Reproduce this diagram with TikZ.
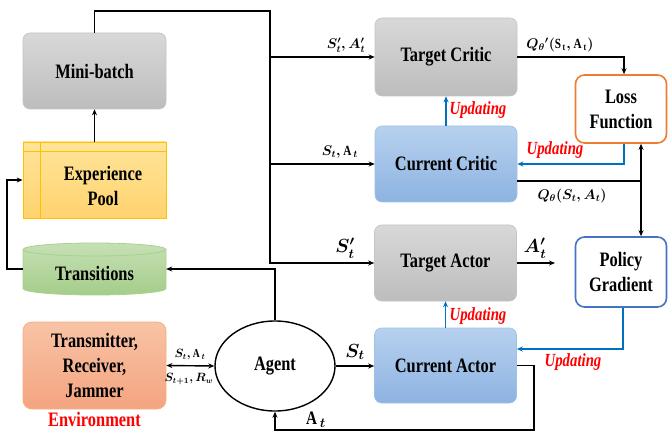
\documentclass[tikz,border=0pt]{standalone}
\usepackage{fix-cm}
\usepackage{fontspec}
\setmainfont[FakeStretch=0.8]{Liberation Serif}
\usetikzlibrary{arrows.meta,shapes.geometric,calc}
\definecolor{gtop}{HTML}{D8D8D8}
\definecolor{gbot}{HTML}{BDBDBD}
\definecolor{gbd}{HTML}{C4C4C4}
\definecolor{btop}{HTML}{B7D1EE}
\definecolor{bbot}{HTML}{8DB3E2}
\definecolor{bbd}{HTML}{9DC3E6}
\definecolor{ytop}{HTML}{FFE49A}
\definecolor{ybot}{HTML}{FFD36E}
\definecolor{ybd}{HTML}{FFC000}
\definecolor{grtop}{HTML}{C6E0B5}
\definecolor{grbot}{HTML}{A4CD89}
\definecolor{grbd}{HTML}{A9D18E}
\definecolor{stop}{HTML}{F8C3A5}
\definecolor{sbot}{HTML}{F4A480}
\definecolor{sbd}{HTML}{F4B183}
\definecolor{lossc}{HTML}{ED7D31}
\definecolor{polc}{HTML}{4472C4}
\definecolor{ublue}{HTML}{0070C0}
\begin{document}
\begin{tikzpicture}[x=1pt,y=-1pt,
  boxfont/.style={font=\bfseries\fontsize{20.5}{25}\selectfont,align=center},
  box/.style={boxfont,rectangle,rounded corners=7pt,minimum width=142pt,minimum height=76pt,inner sep=0pt},
  graybox/.style={box,top color=gtop,bottom color=gbot,draw=gbd,line width=0.6pt},
  bluebox/.style={box,top color=btop,bottom color=bbot,draw=bbd,line width=0.6pt},
  outbox/.style={box,fill=white,line width=1.6pt,rounded corners=9pt,minimum width=91pt},
  arr/.style={line width=1.4pt,-{Stealth[length=6pt,width=5pt]}},
  line/.style={line width=1.4pt},
  barr/.style={arr,draw=ublue},
  upd/.style={text=red,font=\bfseries\itshape\fontsize{18.5}{20}\selectfont,inner sep=0pt},
  lab/.style={font=\fontsize{14}{16}\selectfont\boldmath,inner sep=0pt},
  smlab/.style={font=\fontsize{12}{14}\selectfont\boldmath,inner sep=0pt},
  biglab/.style={font=\fontsize{19}{21}\selectfont\boldmath,inner sep=0pt}]
\useasboundingbox (0,0) rectangle (668,435);

% left column
\node[graybox,minimum width=143pt] (mb) at (94.5,71) {Mini-batch};
\node[rectangle,minimum width=143pt,minimum height=76pt,top color=ytop,bottom color=ybot,draw=ybd,line width=0.8pt] (pool) at (94.5,180) {};
\draw[ybd,line width=0.6pt] ($(pool.north west)+(18,0)$) -- ($(pool.south west)+(18,0)$);
\draw[ybd,line width=0.6pt] ([yshift=-10pt]pool.north west) -- ([yshift=-10pt]pool.north east);
\node[boxfont] (pooltxt) at (103,185.5) {Experience\\Pool};

\path[top color=grtop,bottom color=grbot,draw=grbd,line width=0.8pt]
  (23,249.5) -- (23,288.5) arc[start angle=180,end angle=360,x radius=71.5pt,y radius=6.5pt]
  -- (166,249.5) arc[start angle=0,end angle=180,x radius=71.5pt,y radius=6.5pt] -- cycle;
\draw[grbd,line width=0.8pt] (23,249.5) arc[start angle=180,end angle=360,x radius=71.5pt,y radius=6.5pt];
\node[minimum width=143pt,minimum height=52pt,inner sep=0pt] (trans) at (94.5,269) {};
\node[boxfont] (transtxt) at (94.5,273) {Transitions};

\node[box,minimum width=143pt,minimum height=87pt,top color=stop,bottom color=sbot,draw=sbd,line width=0.8pt,rounded corners=9pt] (env) at (94.5,365.5) {Transmitter,\\Receiver,\\Jammer};
\node[boxfont,text=red] (envlab) at (94.5,419) {Environment};

\node[ellipse,draw,line width=1.4pt,minimum width=120pt,minimum height=90pt,boxfont,inner sep=0pt] (agent) at (275,366) {Agent};

% middle column
\node[graybox,minimum height=78pt] (tc) at (446,57) {Target Critic};
\node[bluebox] (cc) at (446,164) {Current Critic};
\node[graybox] (ta) at (445.5,263) {Target Actor};
\node[bluebox,minimum height=75pt] (ca) at (445.5,365.5) {Current Actor};

% right column
\node[outbox,draw=lossc,minimum height=68pt] (loss) at (621,109) {Loss\\Function};
\node[outbox,draw=polc,minimum height=70pt] (pg) at (621,272) {Policy\\Gradient};

% connectors
\coordinate (bus) at (270,11);
\draw[arr] (mb.north) |- (bus) -- (bus |- ta.west) -- (ta.west);
\draw[arr] (bus |- tc.west) -- (tc.west);
\draw[arr] (bus |- cc.west) -- (cc.west);
\draw[arr] (pool.north) -- (mb.south);
\draw[arr] (trans.west) -- ++(-16,0) |- (pool.west);
\draw[arr] (agent.north) |- (trans.east);
\draw[line width=1.4pt,{Stealth[length=6pt,width=5pt]}-{Stealth[length=6pt,width=5pt]}] (env.east) -- (agent.west);
\draw[arr] (agent.east) -- (agent.east -| ca.west);
\coordinate (aret) at (534,430);
\draw[arr] (ca.east) -| (aret) -| (agent.south);
\coordinate (aend) at (555,263);
\draw[arr] (ta.east) -- (aend);
\draw[arr] (tc.east) -| ([xshift=3pt]loss.north);
\draw[barr] ([xshift=3pt]loss.south) |- (cc.east);
\coordinate (q) at (641,181);
\draw[line] ([yshift=-17pt]cc.east) -- (q);
\draw[arr] (q) -- (q |- loss.south);
\draw[arr] (q) -- (q |- pg.north);
\draw[barr] ([xshift=2pt]pg.south) |- ([yshift=16.5pt]ca.east);
\draw[barr] (cc.north) -- (tc.south);
\draw[barr] (ca.north) -- (ta.south);

% labels
\node[lab] (l1) at (346,45) {$S'_t, A'_t$};
\node[lab] (l2) at (340,152) {$S_t, \mathrm{A}_t$};
\node[lab] (l3) at (560,45) {$Q_{\theta}{}'(\mathrm{S}_{\mathrm{t}}, \mathrm{A}_{\mathrm{t}})$};
\node[lab] (l4) at (572,196) {$Q_\theta(S_t, A_t)$};
\node[upd] (u1) at (478,110) {Updating};
\node[upd] (u2) at (555,150) {Updating};
\node[upd] (u3) at (478,316) {Updating};
\node[upd] (u4) at (573,362) {Updating};
\node[biglab] (l5) at (345,248) {$S'_t$};
\node[biglab] (l6) at (535,248) {$A'_t$};
\node[biglab] (l7) at (355,352) {$S_t$};
\node[biglab] (l8) at (316,420) {$\mathrm{A}_t$};
\node[smlab] (l9) at (190,355) {$S_t, \mathrm{A}_t$};
\node[smlab] (l10) at (189,379) {$S_{t+1}, R_w$};
\end{tikzpicture}
\end{document}
